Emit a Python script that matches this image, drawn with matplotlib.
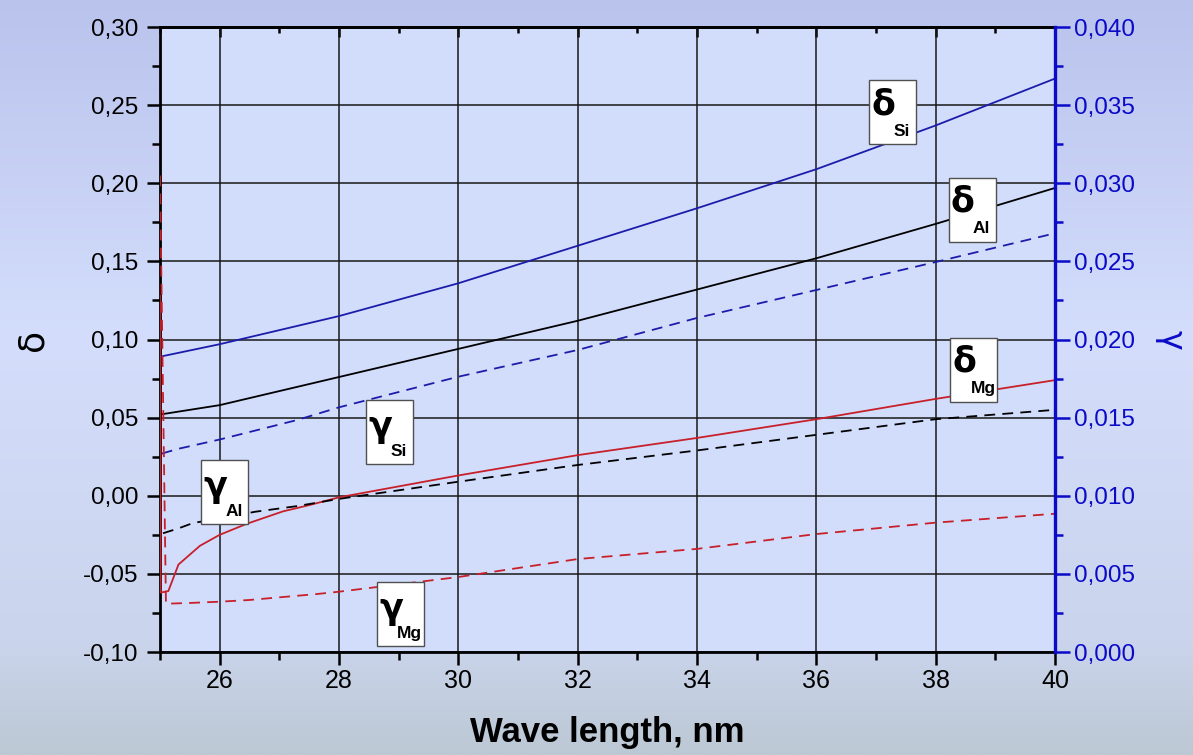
import numpy as np
import matplotlib
matplotlib.use("Agg")
import matplotlib.pyplot as plt
from matplotlib.ticker import MultipleLocator, FuncFormatter
from matplotlib.patches import Rectangle
from matplotlib import transforms

plt.rcParams.update({"font.family": ["Liberation Sans", "DejaVu Sans"]})
plt.rcParams.update({"font.size": 16})

# delta curves (left axis)
delta_x = [25, 26, 28, 30, 32, 34, 36, 38, 40]
delta_si = [0.089, 0.097, 0.115, 0.136, 0.160, 0.184, 0.209, 0.237, 0.267]
delta_al = [0.052, 0.058, 0.076, 0.094, 0.112, 0.132, 0.152, 0.174, 0.197]

delta_mg_x = [25.0, 25.01, 25.14, 25.31, 25.67, 26.0, 26.45, 27.06, 27.5,
              28.0, 29.0, 30.0, 32.0, 34.0, 36.0, 38.0, 40.0]
delta_mg = [0.128, -0.062, -0.061, -0.044, -0.032, -0.025, -0.018, -0.010,
            -0.006, -0.001, 0.006, 0.013, 0.026, 0.037, 0.049, 0.062, 0.074]

# gamma curves (right axis)
gamma_si_x = [25.03, 25.3, 26, 27.3, 28, 30, 32, 34, 36, 38, 40]
gamma_si = [0.0127, 0.0130, 0.0136, 0.01485, 0.01566, 0.01762, 0.01933,
            0.02138, 0.02317, 0.02496, 0.0268]

gamma_al_x = [25.05, 25.3, 25.55, 26.6, 27.3, 28, 30, 32, 34, 36, 38, 40]
gamma_al = [0.0076, 0.0079, 0.00825, 0.00898, 0.00934, 0.0098, 0.0109,
            0.01197, 0.0129, 0.0139, 0.0149, 0.0155]

gamma_mg_x = [25.0, 25.1, 25.17, 25.5, 26, 26.5, 27, 27.6, 28, 30, 32, 34,
              36, 38, 40]
gamma_mg = [0.0305, 0.0031, 0.0031, 0.00314, 0.00322, 0.00333, 0.0035,
            0.0037, 0.00386, 0.0048, 0.00595, 0.0066, 0.00755, 0.00828,
            0.00885]

# curve labels: greek, subscript, position in delta units
labels = [
    ("δ", "Si", 37.28, 0.2456),
    ("δ", "Al", 38.61, 0.1831),
    ("δ", "Mg", 38.64, 0.0805),
    ("γ", "Si", 28.85, 0.0408),
    ("γ", "Al", 26.08, 0.0024),
    ("γ", "Mg", 29.03, -0.0757),
]

BLUE = "#1c1caa"
RED = "#c8202a"
AXBLUE = "#0a0ac8"

fig = plt.figure(figsize=(11.93, 7.55), dpi=100)

# background gradient
bg = fig.add_axes([0, 0, 1, 1], zorder=-5)
stops_y = [0.0, 0.45, 0.85, 1.0]
stops_c = np.array([[186, 195, 236], [212, 222, 252], [202, 212, 236],
                    [188, 200, 212]]) / 255.0
yy = np.linspace(0, 1, 400)
grad = np.stack([np.interp(yy, stops_y, stops_c[:, k]) for k in range(3)],
                axis=-1)
bg.imshow(grad[:, None, :], aspect="auto", extent=[0, 1, 1, 0])
bg.axis("off")

ax = fig.add_axes([0.1341, 0.1364, 0.7502, 0.8278], zorder=1)
ax.set_facecolor("#d2ddfc")
ax2 = ax.twinx()

ax.plot(delta_x, delta_si, color=BLUE, lw=1.3, zorder=3)
ax.plot(delta_x, delta_al, color="black", lw=1.3, zorder=3)
ax.plot(delta_mg_x, delta_mg, color=RED, lw=1.3, zorder=3)

dash = (0, (6, 4))
ax2.plot(gamma_si_x, gamma_si, color=BLUE, lw=1.3, ls=dash)
ax2.plot(gamma_al_x, gamma_al, color="black", lw=1.3, ls=dash)
ax2.plot(gamma_mg_x, gamma_mg, color=RED, lw=1.3, ls=dash)

ax.set_xlim(25, 40)
ax.set_ylim(-0.10, 0.30)
ax2.set_ylim(0.0, 0.040)

ax.xaxis.set_major_locator(MultipleLocator(2))
ax.xaxis.set_minor_locator(MultipleLocator(1))
ax.yaxis.set_major_locator(MultipleLocator(0.05))
ax.yaxis.set_minor_locator(MultipleLocator(0.025))
ax2.yaxis.set_major_locator(MultipleLocator(0.005))
ax2.yaxis.set_minor_locator(MultipleLocator(0.0025))

ax.yaxis.set_major_formatter(FuncFormatter(lambda v, p: f"{v:.2f}".replace(".", ",")))
ax2.yaxis.set_major_formatter(FuncFormatter(lambda v, p: f"{v:.3f}".replace(".", ",")))
ax.xaxis.set_major_formatter(FuncFormatter(lambda v, p: "" if v < 25.5 else f"{v:.0f}"))

ax.grid(True, which="major", color="#181818", lw=1.1, zorder=1)
ax.set_axisbelow(True)

for s in ["left", "bottom", "top"]:
    ax.spines[s].set_linewidth(2.0)
ax.spines["right"].set_visible(False)
for s in ["left", "bottom", "top"]:
    ax2.spines[s].set_visible(False)
ax2.spines["right"].set_linewidth(2.4)
ax2.spines["right"].set_color(AXBLUE)

ax.tick_params(axis="both", which="major", direction="out", length=9.5,
               width=1.8, labelsize=17.5)
ax.tick_params(axis="both", which="minor", direction="out", length=5.5,
               width=1.8)
ax.tick_params(axis="y", pad=6)
ax.tick_params(axis="x", labelsize=18, pad=3)
ax2.tick_params(axis="y", which="major", direction="out", length=10.5,
                width=1.8, color=AXBLUE, labelcolor=AXBLUE, labelsize=17.5,
                pad=3)
ax2.tick_params(axis="y", which="minor", direction="out", length=5.5,
                width=1.8, color=AXBLUE)

top = ax.secondary_xaxis("top")
top.xaxis.set_major_locator(MultipleLocator(2))
top.xaxis.set_minor_locator(MultipleLocator(1))
top.tick_params(axis="x", which="major", direction="in", length=7, width=1.8,
                labeltop=False)
top.tick_params(axis="x", which="minor", direction="in", length=4, width=1.8)
top.spines["top"].set_linewidth(2.0)

greek_font = ["DejaVu Sans"]
ax.set_xlabel("Wave length, nm", fontsize=25, fontweight="bold", labelpad=16)
ax.set_ylabel("δ", fontsize=26, family=greek_font, labelpad=24)
ax2.set_ylabel("γ", fontsize=24, family=greek_font, color=AXBLUE,
               rotation=270, labelpad=38)

for greek, sub, lx, ly in labels:
    trans = fig.dpi_scale_trans + transforms.ScaledTranslation(lx, ly, ax.transData)
    ax2.add_patch(Rectangle((-0.235, -0.32), 0.47, 0.64, transform=trans,
                            fc="white", ec="#505050", lw=1.0, zorder=10,
                            clip_on=False))
    gy = 0.08 if greek == "δ" else 0.05
    ax2.text(-0.095, gy, greek, transform=trans, fontsize=25,
             family=greek_font, fontweight="bold", ha="center", va="center",
             zorder=11)
    ax2.text(0.095, -0.19, sub, transform=trans, fontsize=12.5,
             fontweight="bold", ha="center", va="center", zorder=11)

fig.savefig("out.png", dpi=100)
